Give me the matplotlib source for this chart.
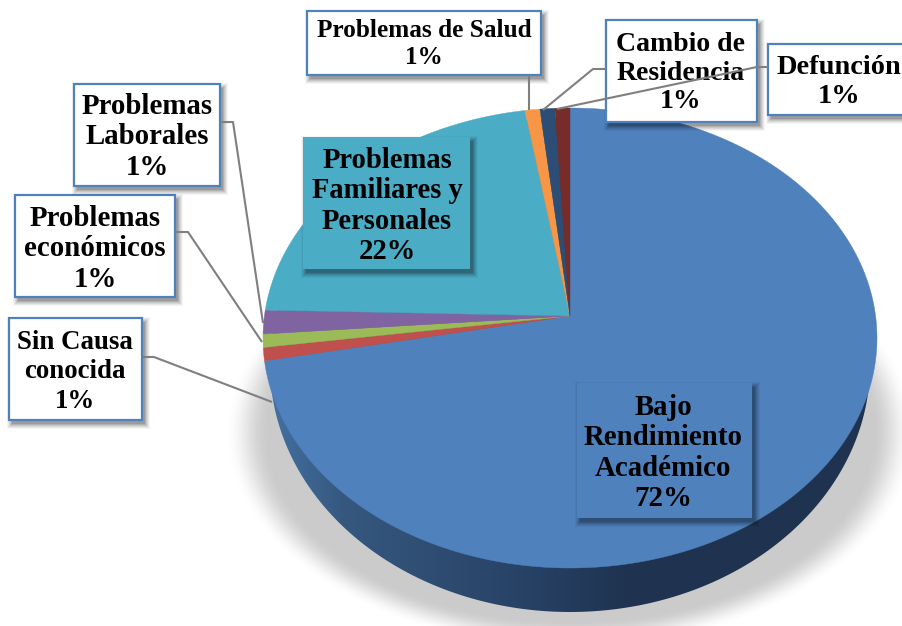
import numpy as np
import matplotlib
matplotlib.use("Agg")
import matplotlib.pyplot as plt
from matplotlib.patches import Rectangle, Polygon
from matplotlib.colors import LinearSegmentedColormap

# ---- data (clockwise from 12 o'clock) ----
categories = ["Bajo\nRendimiento\nAcadémico", "Sin Causa\nconocida", "Problemas\neconómicos",
              "Problemas\nLaborales", "Problemas\nFamiliares y\nPersonales",
              "Problemas de Salud", "Cambio de\nResidencia", "Defunción"]
values = [71.9, 0.92, 0.92, 1.67, 22.0, 0.86, 0.86, 0.86]
percent_labels = ["72%", "1%", "1%", "1%", "22%", "1%", "1%", "1%"]
colors = ["#4F81BD", "#C0504D", "#9BBB59", "#8064A2", "#4BACC6", "#F79646", "#2C4D75", "#772C2A"]

# ---- layout, in canvas pixels ----
W, H = 902, 626
apex = (570.0, 316.0)
top_half, bottom_half, half_width = 208.0, 252.0, 307.0
k = (bottom_half - top_half) / (bottom_half + top_half)
B = top_half * (1 + k)
A = half_width * np.sqrt(1 - k ** 2)
# box (x0, y0, x1, y1), text centre
boxes = [(577, 383, 752, 518, 663, 453), (9, 318, 142, 420, 75, 372), (15, 195, 175, 297, 95, 249),
         (74, 84, 220, 186, 147, 137), (303, 137, 470, 269, 387, 206), (307, 11, 541, 75, 424, 44),
         (606, 20, 757, 122, 681, 73), (768, 44, 910, 115, 839, 82)]
font_sizes = [20.8, 19.4, 20.8, 20.8, 20.6, 18.2, 20.0, 20.4]
line_px = [31.6, 31.6, 31.6, 31.6, 31.6, 30.0, 31.6, 32.0]
leaders = [None,
           [(142, 357), (154, 357), (272, 402)],
           [(175, 232), (188, 232), (262, 342)],
           [(220, 122), (233, 122), (263, 323)],
           None,
           [(529, 75), (529, 110)],
           [(606, 69), (593, 69), (543, 110)],
           [(768, 67), (757, 67), (557, 109)]]


def project(theta):
    """Circle angle (clockwise from top) to canvas pixel, with perspective."""
    u, v = np.sin(theta), np.cos(theta)
    d = 1 + k * v
    return apex[0] + A * u / d, apex[1] - B * v / d


fig = plt.figure(figsize=(W / 100, H / 100), dpi=100)
ax = fig.add_axes([0, 0, 1, 1])
ax.axis("off")

# soft ground shadow
yy, xx = np.mgrid[0:H, 0:W]
r = np.sqrt(((xx - 570) / 328.0) ** 2 + ((yy - 432) / 205.0) ** 2)
t = np.clip((1.05 - r) / 0.13, 0, 1)
alpha = t * t * (3 - 2 * t)
rgba = np.zeros((H, W, 4))
rgba[..., :3] = 203 / 255
rgba[..., 3] = alpha
ax.imshow(rgba, extent=(0, W, H, 0), zorder=1, interpolation="bilinear")

# side wall with horizontal gradient
th = np.linspace(0, 2 * np.pi, 721)
side_x = 570 + 300 * np.sin(th)
side_y = 365 + 247 * np.cos(th)
side_poly = np.column_stack([side_x, side_y])
cmap = LinearSegmentedColormap.from_list("side", [(0, "#4470A2"), (0.12, "#36587F"), (0.45, "#264063"),
                                                  (0.6, "#1F3350"), (1, "#1F3350")])
grad = ax.imshow(np.linspace(0, 1, 256)[None, :], extent=(270, 870, 620, 100), cmap=cmap, zorder=2, aspect="auto")
clip = Polygon(side_poly, closed=True, transform=ax.transData, fc="none", ec="none")
ax.add_patch(clip)
grad.set_clip_path(clip)

# top-surface wedges
edges = np.concatenate([[0], np.cumsum(values)]) / np.sum(values) * 2 * np.pi
for start, end, color in zip(edges[:-1], edges[1:], colors):
    a = np.linspace(start, end, max(3, int((end - start) * 120)))
    px, py = project(a)
    ax.fill(np.r_[apex[0], px], np.r_[apex[1], py], fc=color, ec=color, lw=0.3, zorder=3)


def shadow(x0, y0, x1, y1, z):
    for grow, al in zip((5, 4, 3, 2, 1, 0), (0.04, 0.05, 0.07, 0.08, 0.10, 0.12)):
        ax.add_patch(Rectangle((x0 + 3 - grow, y0 + 4 - grow), x1 - x0 + 2 * grow, y1 - y0 + 2 * grow,
                               fc="black", ec="none", alpha=al, zorder=z))


# labels, boxes, leaders
for i, (box, name, pct, color) in enumerate(zip(boxes, categories, percent_labels, colors)):
    x0, y0, x1, y1, tx, ty = box
    z = 5 + i * 0.1
    filled = i in (0, 4)
    shadow(x0, y0, x1, y1, z)
    ax.add_patch(Rectangle((x0, y0), x1 - x0, y1 - y0, fc=color if filled else "white",
                           ec=color if filled else "#4F81BD", lw=0 if filled else 1.6, zorder=z + 0.01))
    # 1.16 of a 20.8 pt font gives 31.6 px between lines
    spacing = 1.16 * (line_px[i] / 31.6) * (20.8 / font_sizes[i])
    ax.text(tx, ty, name + "\n" + pct, ha="center", va="center", ma="center", color="#000000",
            family="Liberation Serif", weight="bold", fontsize=font_sizes[i],
            linespacing=spacing, zorder=z + 0.02)
for path in leaders:
    if path:
        xs, ys = zip(*path)
        ax.plot(xs, ys, color="#7F7F7F", lw=1.5, zorder=8, solid_capstyle="butt")

ax.set_xlim(0, W)
ax.set_ylim(H, 0)
fig.savefig("out.png", dpi=100, facecolor="white")
